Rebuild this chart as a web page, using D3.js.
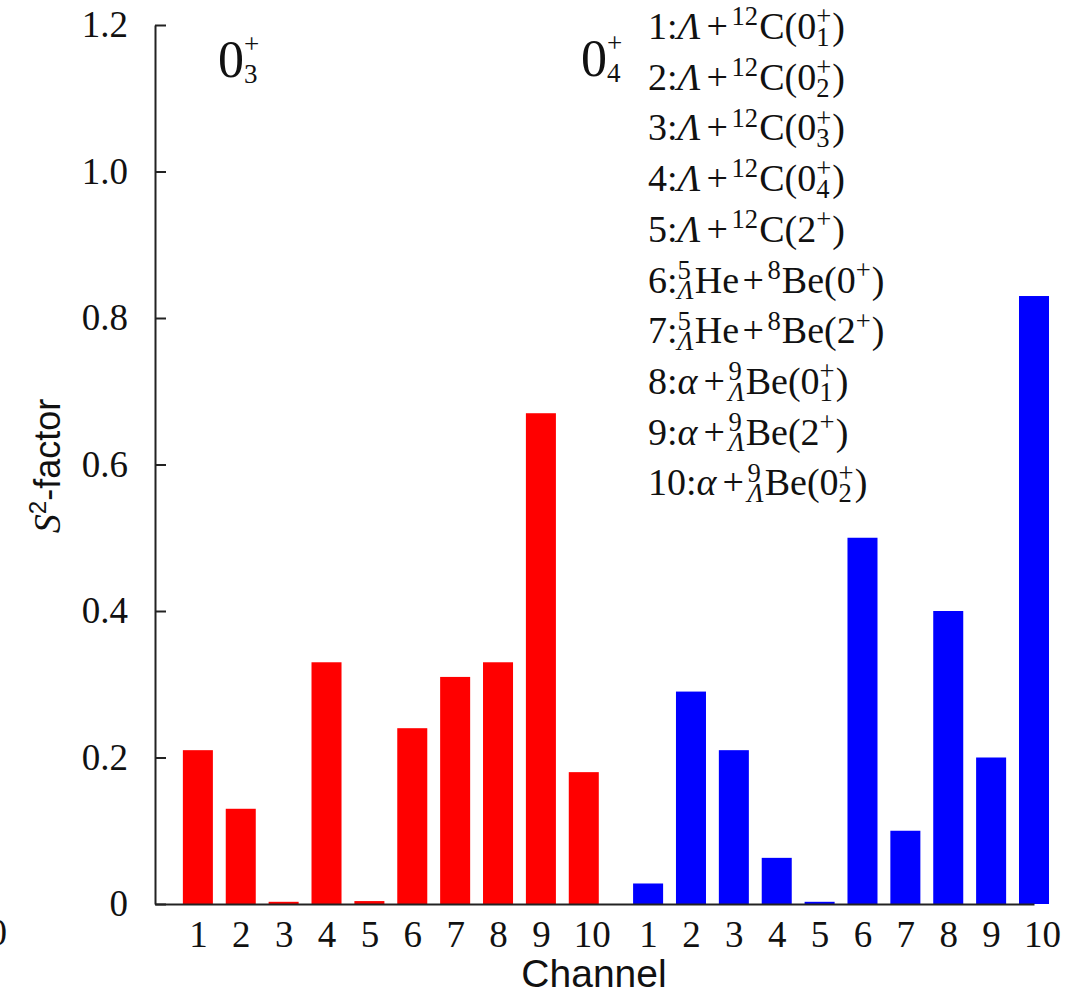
<!DOCTYPE html>
<html>
<head>
<meta charset="utf-8">
<script src="https://cdn.jsdelivr.net/npm/d3@7"></script>
<style>
  html, body { margin: 0; padding: 0; background: #fff; }
  svg { display: block; }
</style>
</head>
<body>
<div id="chart"></div>
<script>
// ---------------- data ----------------
const channels = ["1","2","3","4","5","6","7","8","9","10"];
const s2State03 = [0.21, 0.13, 0.003, 0.33, 0.004, 0.24, 0.31, 0.33, 0.67, 0.18];
const s2State04 = [0.028, 0.29, 0.21, 0.063, 0.003, 0.50, 0.10, 0.40, 0.20, 0.83];
const yTicks = [0, 0.2, 0.4, 0.6, 0.8, 1.0, 1.2];
const legendLines = [
  "1:Λ+^{12}C(0^{+}_{1})",
  "2:Λ+^{12}C(0^{+}_{2})",
  "3:Λ+^{12}C(0^{+}_{3})",
  "4:Λ+^{12}C(0^{+}_{4})",
  "5:Λ+^{12}C(2^{+})",
  "6:^{5}_{Λ}He+^{8}Be(0^{+})",
  "7:^{5}_{Λ}He+^{8}Be(2^{+})",
  "8:α+^{9}_{Λ}Be(0^{+}_{1})",
  "9:α+^{9}_{Λ}Be(2^{+})",
  "10:α+^{9}_{Λ}Be(0^{+}_{2})"
];
const stateLabels = ["0^{+}_{3}", "0^{+}_{4}"];

// ---------------- setup ----------------
const W = 1080, H = 995;
const SERIF = "'Liberation Serif', 'Times New Roman', serif";
const SANS = "'Liberation Sans', Arial, sans-serif";
const svg = d3.select("#chart").append("svg").attr("width", W).attr("height", H)
  .attr("font-family", SERIF);

const groupOffset = 10.5; // second group starts half a slot after first
const x = d3.scaleLinear().domain([0, 20.5]).range([155, 1034]);
const y = d3.scaleLinear().domain([0, 1.2]).range([904, 25]);
const barW = 0.7; // in x units

const bars = [];
s2State03.forEach((v, i) => bars.push({pos: i + 1, v, color: "#ff0000"}));
s2State04.forEach((v, i) => bars.push({pos: i + 1 + groupOffset, v, color: "#0000ff"}));

// bars
svg.append("g").selectAll("rect").data(bars).join("rect")
  .attr("x", d => x(d.pos - barW / 2))
  .attr("width", d => x(d.pos + barW / 2) - x(d.pos - barW / 2))
  .attr("y", d => y(d.v))
  .attr("height", d => y(0) - y(d.v))
  .attr("fill", d => d.color);

// y axis
const yAxis = d3.axisLeft(y).tickValues(yTicks)
  .tickFormat(d => d === 0 ? "0" : d3.format(".1f")(d))
  .tickSizeInner(-11).tickSizeOuter(0).tickPadding(27);
const gy = svg.append("g").attr("transform", `translate(${x(0)},0)`).call(yAxis);
gy.select(".domain").attr("stroke", "#222").attr("stroke-width", 2);
gy.selectAll(".tick line").attr("stroke", "#222").attr("stroke-width", 2);
gy.selectAll(".tick text").attr("font-family", SERIF).attr("font-size", 37).attr("fill", "#111");

// x axis
const tickPositions = bars.map(d => d.pos);
const tickLabelOf = new Map(bars.map((d, i) => [d.pos, channels[i % 10]]));
const xAxis = d3.axisBottom(x).tickValues(tickPositions)
  .tickFormat(d => tickLabelOf.get(d)).tickSize(0).tickPadding(17);
const gx = svg.append("g").attr("transform", `translate(0,${y(0)})`).call(xAxis);
gx.select(".domain").attr("stroke", "#222").attr("stroke-width", 2);
gx.selectAll(".tick text").attr("font-family", SERIF).attr("font-size", 37).attr("fill", "#111")
  .attr("dx", d => tickLabelOf.get(d).length > 1 ? 8 : 0);

// stray partial label at the left edge (from neighbouring panel)
svg.append("text").attr("x", 7).attr("y", 945).attr("text-anchor", "end")
  .attr("font-size", 37).attr("fill", "#111").text("10");

// axis titles
svg.append("text").attr("x", 594).attr("y", 987).attr("text-anchor", "middle")
  .attr("font-family", SANS).attr("font-size", 39).attr("fill", "#111").text("Channel");

const yl = svg.append("text").attr("transform", "translate(60,466) rotate(-90)")
  .attr("text-anchor", "middle").attr("fill", "#111");
yl.append("tspan").attr("font-family", SERIF).attr("font-style", "italic").attr("font-size", 38).text("S");
yl.append("tspan").attr("font-family", SANS).attr("font-size", 24).attr("dy", -14).text("2");
yl.append("tspan").attr("font-family", SANS).attr("font-size", 36).attr("dy", 14).text("-factor");

// ---------------- rich text helper ----------------
function parseRich(s) {
  const out = [];
  let buf = "", i = 0;
  while (i < s.length) {
    const c = s[i];
    if ((c === "^" || c === "_") && s[i + 1] === "{") {
      if (buf) { out.push({type: "text", v: buf}); buf = ""; }
      const end = s.indexOf("}", i + 2);
      const v = s.slice(i + 2, end);
      const slot = c === "^" ? "sup" : "sub";
      const last = out[out.length - 1];
      if (last && last.type === "script" && !last[slot]) last[slot] = v;
      else { const t = {type: "script"}; t[slot] = v; out.push(t); }
      i = end + 1;
    } else { buf += c; i++; }
  }
  if (buf) out.push({type: "text", v: buf});
  return out;
}
const isGreek = ch => /[\u0370-\u03FF]/.test(ch);
function splitGreek(str) {
  const runs = [];
  for (const ch of str) {
    const g = isGreek(ch);
    if (runs.length && runs[runs.length - 1].g === g) runs[runs.length - 1].t += ch;
    else runs.push({t: ch, g});
  }
  return runs;
}
function richText(parent, x0, y0, src, size, opt = {}) {
  const g = parent.append("g").attr("fill", "#111");
  const ss = size * (opt.scriptScale || 0.7);
  const supRaise = size * (opt.supRaise || 0.36);
  const subDrop = size * (opt.subDrop || 0.18);
  const plusPad = size * (opt.plusPad === undefined ? 0.09 : opt.plusPad);
  let cx = x0;
  const put = (txt, px, py, fs, italic) => {
    const t = g.append("text").attr("x", px).attr("y", py).attr("font-size", fs)
      .attr("font-style", italic ? "italic" : "normal").text(txt);
    return t.node().getComputedTextLength();
  };
  parseRich(src).forEach(tok => {
    if (tok.type === "text") {
      splitGreek(tok.v).forEach(r => {
        if (r.g) { cx += put(r.t, cx, y0, size, true) + size * 0.07; return; }
        for (const ch of r.t) {
          if (ch === "+") { cx += plusPad; cx += put("+", cx, y0, size, false); cx += plusPad; }
          else cx += put(ch, cx, y0, size, false);
        }
      });
    } else {
      let w = 0;
      if (tok.sup) w = Math.max(w, put(tok.sup, cx, y0 - supRaise, ss, splitGreek(tok.sup)[0].g));
      if (tok.sub) w = Math.max(w, put(tok.sub, cx, y0 + subDrop, ss, splitGreek(tok.sub)[0].g));
      cx += w + size * 0.03;
    }
  });
  return g;
}

// legend
const legend = svg.append("g").attr("font-family", SERIF);
legendLines.forEach((s, i) => richText(legend, 648, 39 + i * 50.7, s, 38));

// state labels
richText(svg, 218, 77, stateLabels[0], 52, {scriptScale: 0.52, supRaise: 0.46, subDrop: 0.12});
richText(svg, 581, 76, stateLabels[1], 52, {scriptScale: 0.52, supRaise: 0.46, subDrop: 0.12});
</script>
</body>
</html>
